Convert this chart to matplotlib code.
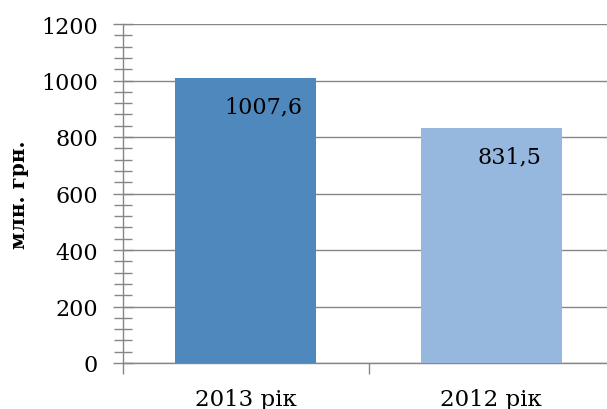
import matplotlib
matplotlib.use("Agg")
import matplotlib.pyplot as plt
from matplotlib.ticker import MultipleLocator, FixedLocator

categories = ["2013 рік", "2012 рік"]
values = [1007.6, 831.5]
value_labels = ["1007,6", "831,5"]
colors = ["#4F88BC", "#96B8DF"]
yticks = [0, 200, 400, 600, 800, 1000, 1200]
ylabel = "млн. грн."

plt.rcParams['font.family'] = ['DejaVu Serif']
fig = plt.figure(figsize=(6.07, 4.10), dpi=100)
ax = fig.add_axes([123/607, 46/410, 491/607, 339/410])

x = list(range(len(categories)))
ax.bar(x, values, width=0.575, color=colors, zorder=3)
ax.set_xlim(-0.5, len(categories) - 0.5)
ax.set_ylim(0, 1200)

gray = "#868686"
ax.set_yticks(yticks)
ax.set_yticklabels([str(t) for t in yticks], fontsize=16)
ax.yaxis.set_minor_locator(MultipleLocator(40))
ax.yaxis.grid(True, which='major', color=gray, linewidth=1, zorder=0)
ax.tick_params(axis='y', which='major', direction='inout', length=14, color=gray, width=1, pad=11)
ax.tick_params(axis='y', which='minor', direction='inout', length=13, color=gray, width=1)

ax.xaxis.set_major_locator(FixedLocator([-0.5, 0.5, 1.5]))
ax.set_xticklabels([])
ax.xaxis.set_minor_locator(FixedLocator(x))
ax.set_xticklabels(categories, minor=True, fontsize=16.5)
ax.tick_params(axis='x', which='major', direction='out', length=8, color=gray, width=1)
ax.tick_params(axis='x', which='minor', direction='in', length=6, color=gray, width=1, pad=18)

for s in ['top', 'right']:
    ax.spines[s].set_visible(False)
for s in ['left', 'bottom']:
    ax.spines[s].set_color(gray)
    ax.spines[s].set_linewidth(1)

for xi, v, lab in zip(x, values, value_labels):
    ax.annotate(lab, xy=(xi, v), xytext=(18, -28), textcoords='offset pixels',
                ha='center', va='center', fontsize=16, zorder=5)

fig.text(19/607, 1 - 195/410, ylabel, rotation=90, ha='center', va='center',
         fontsize=14.5, fontweight='bold')

fig.savefig("out.png", dpi=100)
